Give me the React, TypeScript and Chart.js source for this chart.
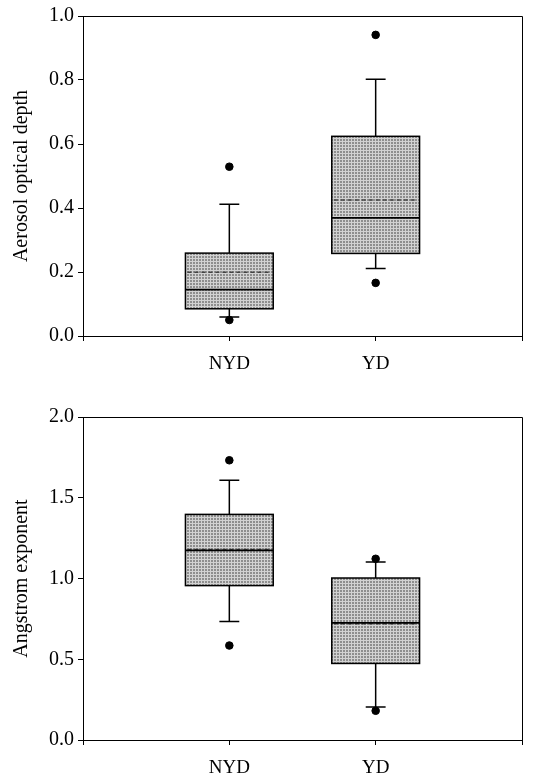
import React, { useEffect, useRef } from "react";
import { Chart, registerables } from "chart.js";

Chart.register(...registerables);

// ---- data ----
const categories = ["NYD", "YD"];

// Aerosol optical depth
const aodLow = [0.059, 0.211];
const aodQ1 = [0.085, 0.258];
const aodMedian = [0.145, 0.369];
const aodMean = [0.199, 0.425];
const aodQ3 = [0.259, 0.624];
const aodHigh = [0.412, 0.802];
const aodOutliers = [
  [0.529, 0.05],
  [0.941, 0.166],
];

// Angstrom exponent
const angLow = [0.733, 0.204];
const angQ1 = [0.956, 0.474];
const angMedian = [1.174, 0.725];
const angMean = [1.18, 0.72];
const angQ3 = [1.397, 1.003];
const angHigh = [1.609, 1.102];
const angOutliers = [
  [1.732, 0.585],
  [1.122, 0.181],
];

const aodTicks = { min: 0, max: 1, step: 0.2 };
const angTicks = { min: 0, max: 2, step: 0.5 };

const FONT = "'Liberation Serif', 'Times New Roman', serif";

function makePattern(ctx: CanvasRenderingContext2D) {
  const c = document.createElement("canvas");
  c.width = 3;
  c.height = 3;
  const p = c.getContext("2d")!;
  p.fillStyle = "#8e8e8e";
  p.fillRect(0, 0, 3, 3);
  p.fillStyle = "#d2d2d2";
  p.fillRect(0, 0, 3, 1);
  p.fillRect(0, 0, 1, 3);
  return ctx.createPattern(c, "repeat") || "#b0b0b0";
}

type Stats = {
  low: number[];
  q1: number[];
  median: number[];
  mean: number[];
  q3: number[];
  high: number[];
};

function boxPlugin(stats: Stats) {
  return {
    id: "boxes",
    beforeDatasetsDraw(chart: any) {
      const ctx: CanvasRenderingContext2D = chart.ctx;
      const xs = chart.scales.x;
      const ys = chart.scales.y;
      const pattern = makePattern(ctx);
      ctx.save();
      categories.forEach((_, i) => {
        const c = i + 1;
        const xl = xs.getPixelForValue(c - 0.3);
        const xr = xs.getPixelForValue(c + 0.3);
        const xc = xs.getPixelForValue(c);
        const cl = xs.getPixelForValue(c - 0.068);
        const cr = xs.getPixelForValue(c + 0.068);
        const yQ1 = ys.getPixelForValue(stats.q1[i]);
        const yQ3 = ys.getPixelForValue(stats.q3[i]);
        const yMed = ys.getPixelForValue(stats.median[i]);
        const yMean = ys.getPixelForValue(stats.mean[i]);
        const yLo = ys.getPixelForValue(stats.low[i]);
        const yHi = ys.getPixelForValue(stats.high[i]);

        ctx.strokeStyle = "#000";
        ctx.lineWidth = 1.5;
        ctx.setLineDash([]);
        // whiskers
        ctx.beginPath();
        ctx.moveTo(xc, yQ3);
        ctx.lineTo(xc, yHi);
        ctx.moveTo(cl, yHi);
        ctx.lineTo(cr, yHi);
        ctx.moveTo(xc, yQ1);
        ctx.lineTo(xc, yLo);
        ctx.moveTo(cl, yLo);
        ctx.lineTo(cr, yLo);
        ctx.stroke();

        // box
        ctx.fillStyle = pattern as any;
        ctx.fillRect(xl, yQ3, xr - xl, yQ1 - yQ3);
        ctx.strokeRect(xl, yQ3, xr - xl, yQ1 - yQ3);

        // mean (dashed)
        ctx.strokeStyle = "#444";
        ctx.lineWidth = 1.5;
        ctx.setLineDash([4, 3]);
        ctx.beginPath();
        ctx.moveTo(xl + 2, yMean);
        ctx.lineTo(xr - 2, yMean);
        ctx.stroke();

        // median
        ctx.setLineDash([]);
        ctx.strokeStyle = "#000";
        ctx.lineWidth = 1.8;
        ctx.beginPath();
        ctx.moveTo(xl, yMed);
        ctx.lineTo(xr, yMed);
        ctx.stroke();
      });
      ctx.restore();
    },
  };
}

const framePlugin = {
  id: "frame",
  afterDraw(chart: any) {
    const { ctx, chartArea } = chart;
    ctx.save();
    ctx.strokeStyle = "#000";
    ctx.lineWidth = 1;
    ctx.beginPath();
    ctx.moveTo(chartArea.left, chartArea.top + 0.5);
    ctx.lineTo(chartArea.right + 0.5, chartArea.top + 0.5);
    ctx.lineTo(chartArea.right + 0.5, chartArea.bottom);
    ctx.stroke();
    ctx.restore();
  },
};

function makeConfig(
  stats: Stats,
  outliers: number[][],
  yt: { min: number; max: number; step: number },
  title: string,
  padTop: number,
  xHeight: number
): any {
  const outlierPoints: { x: number; y: number }[] = [];
  outliers.forEach((vals, i) =>
    vals.forEach((v) => outlierPoints.push({ x: i + 1, y: v }))
  );
  return {
    type: "scatter",
    data: {
      datasets: [
        {
          data: outlierPoints,
          backgroundColor: "#000",
          borderColor: "#000",
          pointRadius: 3.8,
          pointHoverRadius: 3.8,
        },
      ],
    },
    options: {
      animation: false,
      responsive: false,
      maintainAspectRatio: false,
      layout: { padding: { top: padTop, right: 15, left: 0, bottom: 0 } },
      plugins: { legend: { display: false }, tooltip: { enabled: false } },
      scales: {
        x: {
          type: "linear",
          min: 0,
          max: 3,
          afterFit: (s: any) => {
            s.height = xHeight;
          },
          ticks: {
            stepSize: 1,
            autoSkip: false,
            maxRotation: 0,
            padding: 12,
            color: "#000",
            font: { family: FONT, size: 19 },
            callback: (v: number) => categories[v - 1] ?? "",
          },
          grid: {
            display: true,
            drawOnChartArea: false,
            drawTicks: true,
            tickLength: 5,
            color: "#000",
            lineWidth: 1,
          },
          border: { display: true, color: "#000", width: 1 },
        },
        y: {
          type: "linear",
          min: yt.min,
          max: yt.max,
          afterFit: (s: any) => {
            s.width = 83;
          },
          ticks: {
            stepSize: yt.step,
            padding: 4,
            color: "#000",
            font: { family: FONT, size: 20 },
            callback: (v: number) => v.toFixed(1),
          },
          grid: {
            display: true,
            drawOnChartArea: false,
            drawTicks: true,
            tickLength: 5,
            color: "#000",
            lineWidth: 1,
          },
          border: { display: true, color: "#000", width: 1 },
          title: {
            display: true,
            text: title,
            color: "#000",
            font: { family: FONT, size: 20 },
            padding: { top: 10, bottom: 0 },
          },
        },
      },
    },
    plugins: [boxPlugin(stats), framePlugin],
  };
}

function BoxChart(props: {
  stats: Stats;
  outliers: number[][];
  yt: { min: number; max: number; step: number };
  title: string;
  top: number;
  height: number;
  padTop: number;
  xHeight: number;
}) {
  const ref = useRef<HTMLCanvasElement>(null);
  useEffect(() => {
    if (!ref.current) return;
    const chart = new Chart(
      ref.current,
      makeConfig(props.stats, props.outliers, props.yt, props.title, props.padTop, props.xHeight)
    );
    return () => chart.destroy();
  }, []);
  return (
    <canvas
      ref={ref}
      width={537}
      height={props.height}
      style={{
        position: "absolute",
        left: 0,
        top: props.top,
        width: 537,
        height: props.height,
      }}
    />
  );
}

export default function App() {
  return (
    <div
      style={{
        position: "absolute",
        left: 0,
        top: 0,
        width: 537,
        height: 778,
        background: "#fff",
      }}
    >
      <BoxChart
        stats={{ low: aodLow, q1: aodQ1, median: aodMedian, mean: aodMean, q3: aodQ3, high: aodHigh }}
        outliers={aodOutliers}
        yt={aodTicks}
        title="Aerosol optical depth"
        top={0}
        height={392}
        padTop={14}
        xHeight={56}
      />
      <BoxChart
        stats={{ low: angLow, q1: angQ1, median: angMedian, mean: angMean, q3: angQ3, high: angHigh }}
        outliers={angOutliers}
        yt={angTicks}
        title="Angstrom exponent"
        top={400}
        height={378}
        padTop={17}
        xHeight={38}
      />
    </div>
  );
}
